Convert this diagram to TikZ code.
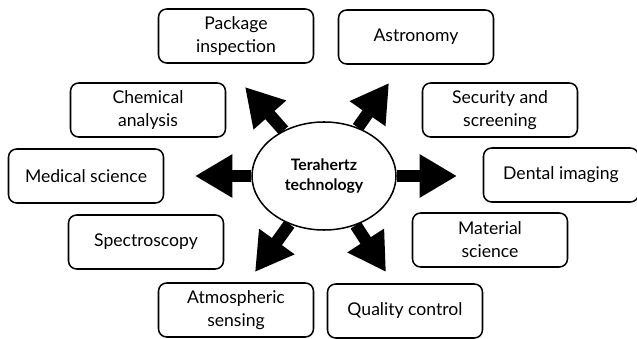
\documentclass[tikz,border=0pt]{standalone}
\usepackage{fontspec}
\setmainfont{Lato}
\usetikzlibrary{shapes.geometric, arrows.meta}

\begin{document}
\begin{tikzpicture}[x=0.03cm, y=0.03cm,
    appbox/.style={draw, line width=1.3pt, rounded corners=7pt, fill=white,
      minimum width=4.65cm, minimum height=1.62cm, align=center,
      inner sep=2pt, font=\fontsize{15}{19.5}\selectfont},
    bigarrow/.style={line width=10.5pt, -{Triangle[width=35pt, length=32pt]}}]
  \useasboundingbox (0,0) rectangle (637,339);

  % Centre
  \node[draw, ellipse, line width=1.3pt, fill=white, minimum width=4.32cm, minimum height=3.24cm,
    align=center, font=\fontsize{13.5}{17.5}\selectfont\bfseries] (tz) at (324,163) {Terahertz\\technology};

  % Applications
  \node[appbox] (pkg) at (236,303) {Package\\inspection};
  \node[appbox] (astro) at (416,302) {Astronomy};
  \node[appbox] (chem) at (148,229) {Chemical\\analysis};
  \node[appbox] (secur) at (500,229) {Security and\\screening};
  \node[appbox] (medic) at (86,163) {Medical science};
  \node[appbox] (dental) at (561,164) {Dental imaging};
  \node[appbox] (spectro) at (146,97) {Spectroscopy};
  \node[appbox] (material) at (490,99) {Material\\science};
  \node[appbox] (atmos) at (236,29) {Atmospheric\\sensing};
  \node[appbox] (quality) at (405,28) {Quality control};

  % Arrow tips
  \coordinate (tipul) at (245,252);
  \coordinate (tipur) at (389,256);
  \coordinate (tipl) at (195,163);
  \coordinate (tipr) at (457,163);
  \coordinate (tipll) at (255,67);
  \coordinate (tiplr) at (386,67);

  \foreach \t in {tipul, tipur, tipl, tipr, tipll, tiplr}
    \draw[bigarrow] (tz) -- (\t);
\end{tikzpicture}
\end{document}
